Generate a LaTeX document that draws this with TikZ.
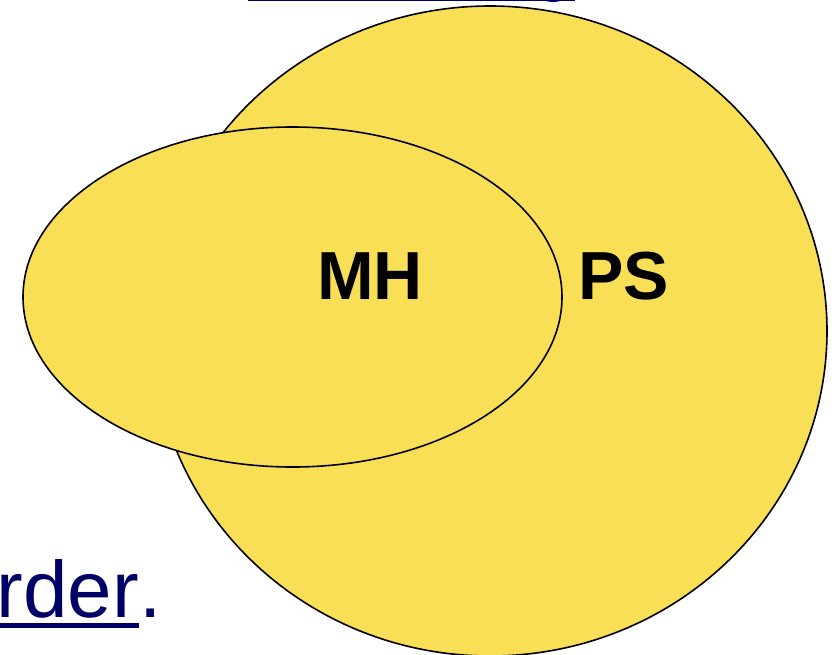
\documentclass[tikz,border=0pt]{standalone}
\usepackage{fontspec}
\setmainfont{Liberation Sans}
\usetikzlibrary{calc}
\definecolor{vennyellow}{RGB}{249,223,85}
\definecolor{navy}{RGB}{0,0,102}
\tikzset{
  venn/.style={draw=black, line width=1.6pt, fill=vennyellow},
  setlabel/.style={inner sep=0pt, font=\fontsize{68}{78}\selectfont\bfseries, text=black},
  linktext/.style={inner sep=0pt, font=\fontsize{80}{92}\selectfont, text=navy}
}
\begin{document}
\begin{tikzpicture}[x=1pt, y=-1pt]
\useasboundingbox (0,0) rectangle (835,654);
% large set PS
\draw[venn] (490,331) ellipse [x radius=337pt, y radius=325pt];
% smaller set MH
\draw[venn] (292.5,297) ellipse [x radius=269.5pt, y radius=170pt];
% labels
\node[setlabel] (mh) at (370,276) {MH};
\node[setlabel] (ps) at (623.5,276) {PS};
% bottom-left partial text
\node[linktext, anchor=base east] (ord) at (139,617) {order};
\node[linktext, anchor=base west, text=navy] (dot) at (ord.base east) {.};
\fill[navy] ($(ord.base west)+(0,6)$) rectangle ($(ord.base east)+(0,11)$);
% top partial underline with a descender
\fill[navy] (248,-3) rectangle (575,1.3);
\fill[navy] (553,-3) ellipse [x radius=12pt, y radius=5pt];
\end{tikzpicture}
\end{document}
